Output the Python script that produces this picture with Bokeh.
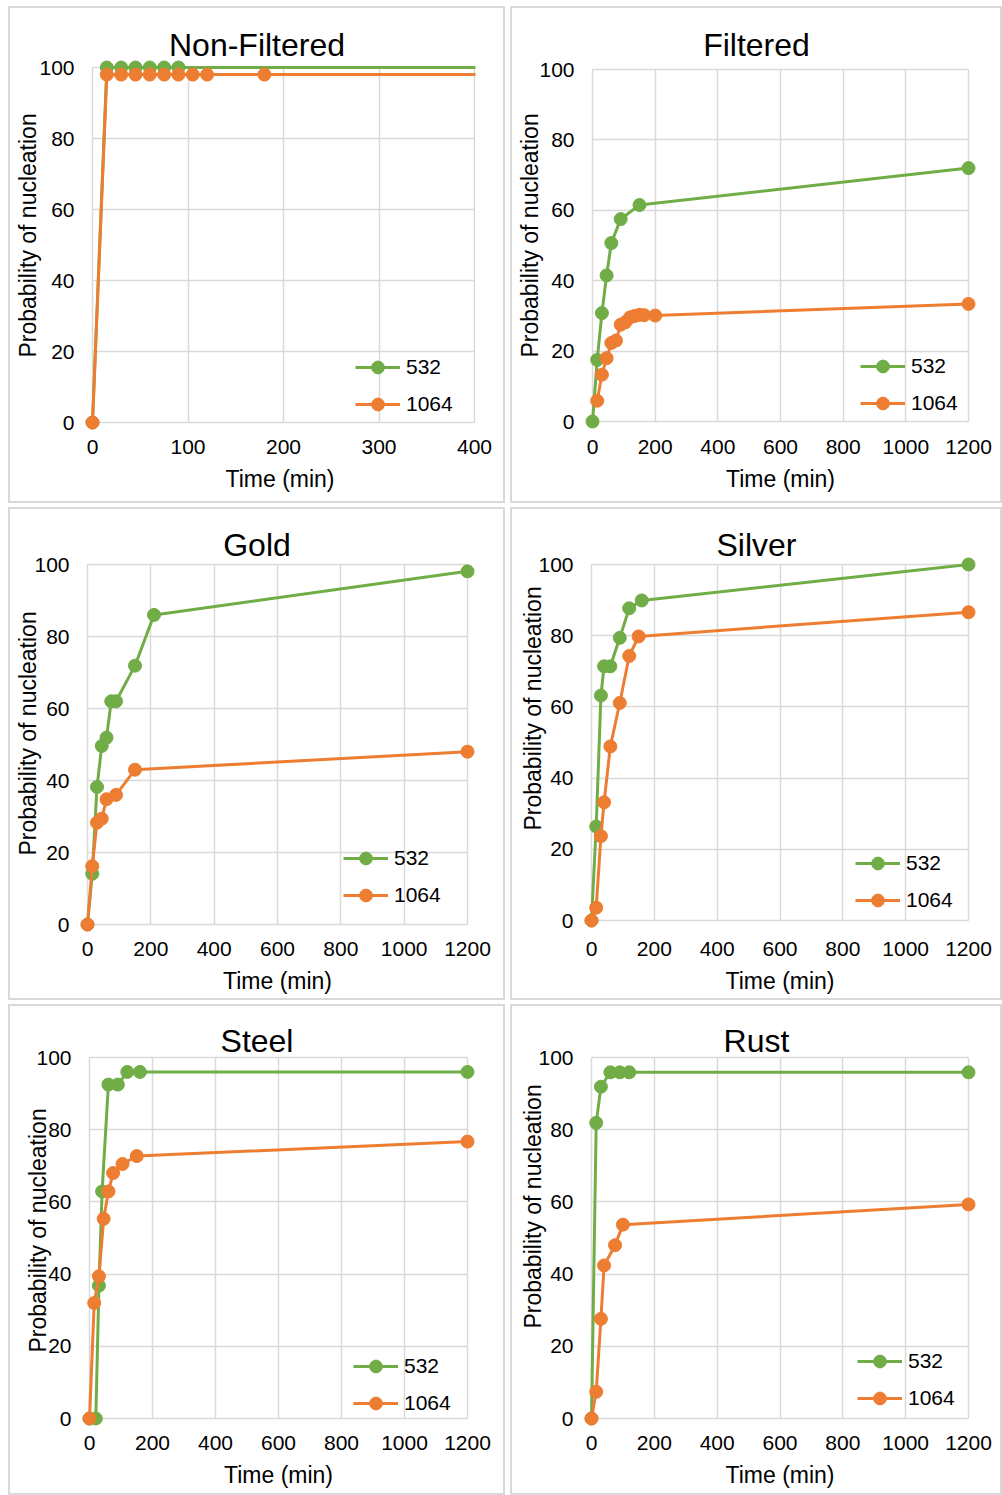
from bokeh.plotting import figure
from bokeh.layouts import column, row
from bokeh.models import Range1d, SingleIntervalTicker, Legend, LegendItem, Label, Title
from bokeh.embed import file_html
from bokeh.resources import INLINE

GREEN = "#70AD47"
ORANGE = "#ED7D31"
GRID = "#D9D9D9"
FONT = "Liberation Sans"

# ---------------- data (time in min, probability of nucleation in %) ----------------
nf_t532 = [0, 15, 30, 45, 60, 75, 90, 1200]
nf_p532 = [0, 100, 100, 100, 100, 100, 100, 100]
nf_t1064 = [0, 15, 30, 45, 60, 75, 90, 105, 120, 180, 1200]
nf_p1064 = [0, 98, 98, 98, 98, 98, 98, 98, 98, 98, 98]

fi_t532 = [0, 15, 30, 45, 60, 90, 150, 1200]
fi_p532 = [0, 17.5, 30.8, 41.5, 50.7, 57.5, 61.5, 72.0]
fi_t1064 = [15, 30, 45, 60, 75, 90, 105, 120, 135, 150, 165, 200, 1200]
fi_p1064 = [5.9, 13.3, 18.0, 22.3, 23.0, 27.5, 28.2, 29.6, 30.0, 30.3, 30.2, 30.1, 33.4]

go_t532 = [0, 15, 30, 45, 60, 75, 90, 150, 210, 1200]
go_p532 = [0, 14.1, 38.2, 49.6, 51.9, 62.0, 62.0, 71.9, 86.0, 98.1]
go_t1064 = [0, 15, 30, 45, 60, 90, 150, 1200]
go_p1064 = [0, 16.2, 28.3, 29.4, 34.8, 36.0, 43.0, 48.0]

si_t532 = [0, 15, 30, 40, 60, 90, 120, 160, 1200]
si_p532 = [0, 26.4, 63.2, 71.4, 71.4, 79.4, 87.7, 89.9, 100]
si_t1064 = [0, 15, 30, 40, 60, 90, 120, 150, 1200]
si_p1064 = [0, 3.6, 23.7, 33.2, 48.9, 61.1, 74.3, 79.8, 86.6]

st_t532 = [0, 20, 30, 40, 60, 90, 120, 160, 1200]
st_p532 = [0, 0, 36.8, 62.9, 92.5, 92.5, 96.0, 96.0, 96.0]
st_t1064 = [0, 15, 30, 45, 60, 75, 105, 150, 1200]
st_p1064 = [0, 32.0, 39.4, 55.3, 62.9, 68.0, 70.5, 72.7, 76.7]

ru_t532 = [0, 15, 30, 60, 90, 120, 1200]
ru_p532 = [0, 81.9, 91.9, 95.9, 95.9, 95.9, 95.9]
ru_t1064 = [0, 15, 30, 40, 75, 100, 1200]
ru_p1064 = [0, 7.4, 27.6, 42.4, 48.0, 53.7, 59.3]

titles = ["Non-Filtered", "Filtered", "Gold", "Silver", "Steel", "Rust"]
x_max = [400, 1200, 1200, 1200, 1200, 1200]
x_step = [100, 200, 200, 200, 200, 200]
y_max = 100
y_step = 20
legend_labels = ["532", "1064"]
x_label = "Time (min)"
y_label = "Probability of nucleation"

series = [
    (nf_t532, nf_p532, nf_t1064, nf_p1064),
    (fi_t532, fi_p532, fi_t1064, fi_p1064),
    (go_t532, go_p532, go_t1064, go_p1064),
    (si_t532, si_p532, si_t1064, si_p1064),
    (st_t532, st_p532, st_t1064, st_p1064),
    (ru_t532, ru_p532, ru_t1064, ru_p1064),
]

# ---------------- layout (screen px) ----------------
sizes = [(497, 497), (492, 497), (497, 493), (492, 493), (497, 491), (492, 491)]
# canvas pixel positions of x=0, x=max, y=max, y=0
px_x0 = [82, 80, 77, 79, 79, 79]
px_x1 = [464, 456, 457, 456, 457, 456]
px_ytop = [59, 61, 55, 55, 51, 51]
px_y0 = [414, 413, 415, 411, 412, 412]
frame_bottom = [422, 422, 423, 423, 420, 420]   # shared within a row
title_y = [36, 36, 35, 35, 34, 34]               # canvas y of title centre
PAD = 8                                          # room so edge markers are not clipped
pad_right = [1, PAD, PAD, PAD, PAD, PAD]
legend_dx = [263, 268, 256, 264, 264, 266]       # from x=0 line
legend_dy = [2, 2, 13, 4, -1, 4]                 # from y=0 line
ylab_offset = [73, 73, 77, 102, 74, 98]          # start of y title above frame bottom
ylab_standoff = [-9, -13, -19, -21, -35, -21]


def make_panel(i):
    t1, p1, t2, p2 = series[i]
    W, H = sizes[i]
    xs = x_max[i] / (px_x1[i] - px_x0[i])
    ys = y_max / (px_y0[i] - px_ytop[i])
    f_left = px_x0[i] - PAD
    fb = frame_bottom[i]
    p = figure(
        width=W, height=H,
        x_range=Range1d(-PAD * xs, x_max[i] + pad_right[i] * xs),
        y_range=Range1d(-(fb - px_y0[i]) * ys, y_max + px_ytop[i] * ys),
        output_backend="svg", toolbar_location=None,
        min_border_left=f_left,
        min_border_right=W - (px_x1[i] + pad_right[i]),
        min_border_top=0,
        min_border_bottom=H - fb,
        background_fill_color="white", border_fill_color="white",
        outline_line_color=None,
        styles={"border": "2px solid #D9D9D9"},
    )
    # chart title, centred on the whole panel (screen units: from frame bottom-left)
    p.add_layout(Label(
        x=(W - 4) / 2 - f_left, y=fb - title_y[i],
        x_units="screen", y_units="screen", text=titles[i],
        text_align="center", text_baseline="middle",
        text_font=FONT, text_font_size="32px", text_color="#000000",
    ))

    p.xaxis.ticker = SingleIntervalTicker(interval=x_step[i], num_minor_ticks=0)
    p.yaxis.ticker = SingleIntervalTicker(interval=y_step, num_minor_ticks=0)
    p.xaxis.bounds = (0, x_max[i])
    p.yaxis.bounds = (0, y_max)
    p.xaxis.axis_label = x_label
    for ax in (p.xaxis, p.yaxis):
        ax.axis_line_color = None
        ax.major_tick_line_color = None
        ax.minor_tick_line_color = None
        ax.major_label_text_font = FONT
        ax.major_label_text_font_size = "21px"
        ax.major_label_text_color = "#000000"
        ax.axis_label_text_font = FONT
        ax.axis_label_text_font_size = "23px"
        ax.axis_label_text_font_style = "normal"
        ax.axis_label_text_color = "#000000"
    p.xaxis.major_label_standoff = 3
    p.xaxis.axis_label_standoff = 9
    p.yaxis.major_label_standoff = 4

    # vertical axis title, placed along the side like the original
    p.add_layout(Title(
        text=y_label, align="left", offset=ylab_offset[i], standoff=ylab_standoff[i],
        text_font=FONT, text_font_size="23px", text_font_style="normal",
        text_color="#000000",
    ), "left")

    for g in (p.xgrid, p.ygrid):
        g.grid_line_color = GRID
        g.grid_line_width = 1.5
    p.xgrid.bounds = (0, x_max[i])
    p.ygrid.bounds = (0, y_max)
    p.xgrid.cross_bounds = (0, y_max)
    p.ygrid.cross_bounds = (0, x_max[i])

    g_l = p.line(t1, p1, line_color=GREEN, line_width=3)
    g_s = p.scatter(t1, p1, size=13, fill_color=GREEN, line_color=GREEN)
    o_l = p.line(t2, p2, line_color=ORANGE, line_width=3)
    o_s = p.scatter(t2, p2, size=13, fill_color=ORANGE, line_color=ORANGE)

    legend = Legend(
        items=[LegendItem(label=legend_labels[0], renderers=[g_l, g_s]),
               LegendItem(label=legend_labels[1], renderers=[o_l, o_s])],
        location=(PAD + legend_dx[i], (fb - px_y0[i]) + legend_dy[i]),
        padding=0, margin=0, spacing=5,
        glyph_width=45, glyph_height=32, label_standoff=6,
        label_text_font=FONT, label_text_font_size="21px", label_text_color="#000000",
        background_fill_alpha=0, border_line_color=None,
    )
    p.add_layout(legend)
    return p


panels = [make_panel(i) for i in range(6)]
layout = column(
    row(panels[0], panels[1], spacing=5),
    row(panels[2], panels[3], spacing=5),
    row(panels[4], panels[5], spacing=5),
    spacing=4, margin=(6, 0, 0, 8),
)

open("out.html", "w").write(file_html(layout, INLINE))
